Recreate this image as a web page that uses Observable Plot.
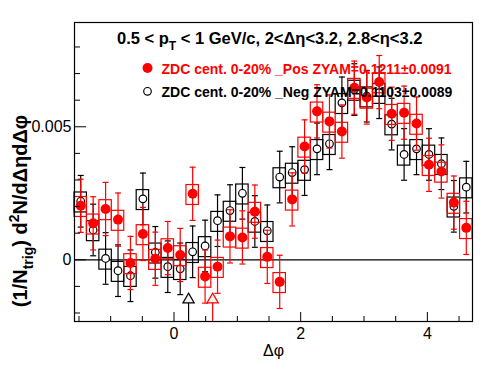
<!DOCTYPE html>
<html><head><meta charset="utf-8">
<script src="https://cdn.jsdelivr.net/npm/d3@7"></script>
<script src="https://cdn.jsdelivr.net/npm/@observablehq/plot@0.6"></script>
<style>body{margin:0;background:#fff}</style>
</head><body><div id="chart"></div>
<script>
// ---- data ----
const nBins = 32;
const phiMin = -Math.PI / 2, phiMax = 3 * Math.PI / 2;
const posValues = [0.00203, 0.00137, 0.00191, 0.00151, -0.00012, 0.00097, 0.00004, 0.00044,
  0.00018, 0.00248, -0.00063, -0.00026, 0.00088, 0.00084, 0.00181, 0.00011,
  -0.00083, 0.00227, 0.00426, 0.00558, 0.00520, 0.00482, 0.00647, 0.00610,
  0.00668, 0.00549, 0.00553, 0.00512, 0.00357, 0.00332, 0.00215, 0.00120];
const negValues = [0.00220, 0.00112, 0.00005, -0.00041, -0.00060, 0.00229, 0.00028, -0.00026,
  -0.00034, 0.00030, 0.00052, 0.00147, 0.00185, 0.00250, 0.00144, 0.00109,
  0.00311, 0.00328, 0.00339, 0.00417, 0.00436, 0.00590, 0.00640, 0.00615,
  0.00628, 0.00510, 0.00396, 0.00417, 0.00396, 0.00361, 0.00201, 0.00273];
const posStatErr = 0.00100;
const negStatErr = 0.00097;
const sysUp = 0.00033, sysDown = 0.00042;
const zyamSeries = ["Pos", "Neg"];
const zyamPhi = [0.61, 0.23];
const zyamMarkY = [-0.0015, -0.0015];
const zyamLineTop = [-0.00163, -0.00163];
const xMajorTicks = [0, 2, 4];
const xMinorTicks = [-1.5, -1, -0.5, 0.5, 1, 1.5, 2.5, 3, 3.5, 4.5];
const yMajorTicks = [0, 0.005];
const yMinorTicks = [-0.002, -0.001, 0.001, 0.002, 0.003, 0.004, 0.006, 0.007, 0.008];
const yDomain = [-0.00232, 0.00892];
const legendLabels = ["ZDC cent. 0-20% _Pos ZYAM=0.1211\u00b10.0091", "ZDC cent. 0-20% _Neg ZYAM=0.1103\u00b10.0089"];
const RED = "#ff0000", BLACK = "#000000";

// ---- build tables ----
const bw = (phiMax - phiMin) / nBins;
const mk = (vals, err) => vals.map((v, i) => ({
  phi: phiMin + (i + 0.5) * bw, x1: phiMin + i * bw, x2: phiMin + (i + 1) * bw, v, err
}));
const pos = mk(posValues, posStatErr);
const neg = mk(negValues, negStatErr);
const zyam = zyamSeries.map((s, i) => ({s, phi: zyamPhi[i], y: zyamMarkY[i], top: zyamLineTop[i], color: s === "Pos" ? RED : BLACK}));

const capSymbol = {draw(ctx, size) { const w = Math.sqrt(size / Math.PI); ctx.moveTo(-w, 0); ctx.lineTo(w, 0); }};
const FONT = "'Liberation Sans', Arial, Helvetica, sans-serif";

function series(data, color, isPos) {
  return [
    Plot.rect(data, {x1: "x1", x2: "x2", y1: d => d.v - sysDown, y2: d => d.v + sysUp, stroke: color, fill: "none", strokeWidth: 1.2, inset: 0, insetLeft: 0, insetRight: 0}),
    Plot.ruleX(data, {x: "phi", y1: d => d.v - d.err, y2: d => d.v + d.err, stroke: color, strokeWidth: 1.2}),
    Plot.dot(data, {x: "phi", y: d => d.v + d.err, symbol: capSymbol, r: 3, stroke: color, strokeWidth: 1.2}),
    Plot.dot(data, {x: "phi", y: d => d.v - d.err, symbol: capSymbol, r: 3, stroke: color, strokeWidth: 1.2}),
    isPos
      ? Plot.dot(data, {x: "phi", y: "v", r: 5, fill: color, stroke: "none"})
      : Plot.dot(data, {x: "phi", y: "v", r: 3.8, fill: "white", stroke: color, strokeWidth: 1.2})
  ];
}

const svg = Plot.plot({
  width: 496, height: 374,
  marginLeft: 74, marginRight: 24, marginTop: 22, marginBottom: 53,
  style: {fontFamily: FONT, background: "white"},
  x: {domain: [phiMin, phiMax]},
  y: {domain: yDomain},
  marks: [
    Plot.ruleY([0], {stroke: "black", strokeWidth: 1.2}),
    ...series(neg, BLACK, false),
    ...series(pos, RED, true),
    Plot.ruleX(zyam, {x: "phi", y1: "top", y2: yDomain[0], stroke: "color", strokeWidth: 1.2}),
    Plot.dot(zyam, {x: "phi", y: "y", symbol: "triangle", r: 4.2, stroke: "color", fill: "#f2f2f2", strokeWidth: 1.2}),
    Plot.frame({stroke: "black", strokeWidth: 1.2}),
    Plot.axisX({ticks: xMajorTicks, tickSize: -9, tickFormat: () => "", label: null}),
    Plot.axisX({ticks: xMinorTicks, tickSize: -5, tickFormat: () => "", label: null}),
    Plot.axisX({ticks: xMajorTicks, tickSize: 0, tickPadding: 6, tickFormat: d => String(d), fontSize: 16, label: null}),
    Plot.axisY({ticks: yMajorTicks, tickSize: -12, tickFormat: () => "", label: null}),
    Plot.axisY({ticks: yMinorTicks, tickSize: -6, tickFormat: () => "", label: null}),
    Plot.axisY({ticks: yMajorTicks, tickSize: 0, tickPadding: 3, tickFormat: d => d === 0 ? "0" : String(d), fontSize: 16, label: null}),
    Plot.text(["\u0394\u03c6"], {frameAnchor: "bottom", dy: 34, fontSize: 16, lineAnchor: "bottom", fill: "black"}),
    Plot.dot([0], {frameAnchor: "top-left", dx: 73, dy: 45.5, r: 5, fill: RED}),
    Plot.dot([0], {frameAnchor: "top-left", dx: 73, dy: 68.8, r: 3.8, fill: "white", stroke: BLACK, strokeWidth: 1.2}),
    Plot.text([legendLabels[0]], {frameAnchor: "top-left", dx: 87, dy: 51, textAnchor: "start", lineAnchor: "bottom", fontSize: 14, fontWeight: "bold", fill: RED}),
    Plot.text([legendLabels[1]], {frameAnchor: "top-left", dx: 87, dy: 74, textAnchor: "start", lineAnchor: "bottom", fontSize: 14, fontWeight: "bold", fill: BLACK})
  ]
});

// title with subscript
const s = d3.select(svg);
const t = s.append("text").attr("x", 117).attr("y", 43.5).attr("text-anchor", "start").attr("font-family", FONT)
  .attr("font-size", 16.5).attr("font-weight", "bold").attr("fill", "black");
t.append("tspan").text("0.5 < p");
t.append("tspan").attr("dy", 6).attr("font-size", 12).text("T");
t.append("tspan").attr("dy", -6).text(" < 1 GeV/c, 2<\u0394\u03b7<3.2, 2.8<\u03b7<3.2");

// y-axis title
const yt = s.append("text").attr("transform", "translate(27,211) rotate(-90)").attr("text-anchor", "middle")
  .attr("font-family", FONT).attr("font-size", 20).attr("font-weight", "bold").attr("fill", "black");
yt.append("tspan").text("(1/N");
yt.append("tspan").attr("dy", 6).attr("font-size", 14).text("trig");
yt.append("tspan").attr("dy", -6).text(") d");
yt.append("tspan").attr("dy", -8).attr("font-size", 14).text("2");
yt.append("tspan").attr("dy", 8).text("N/d\u0394\u03b7d\u0394\u03c6");

document.getElementById("chart").append(svg);
</script>
</body></html>
